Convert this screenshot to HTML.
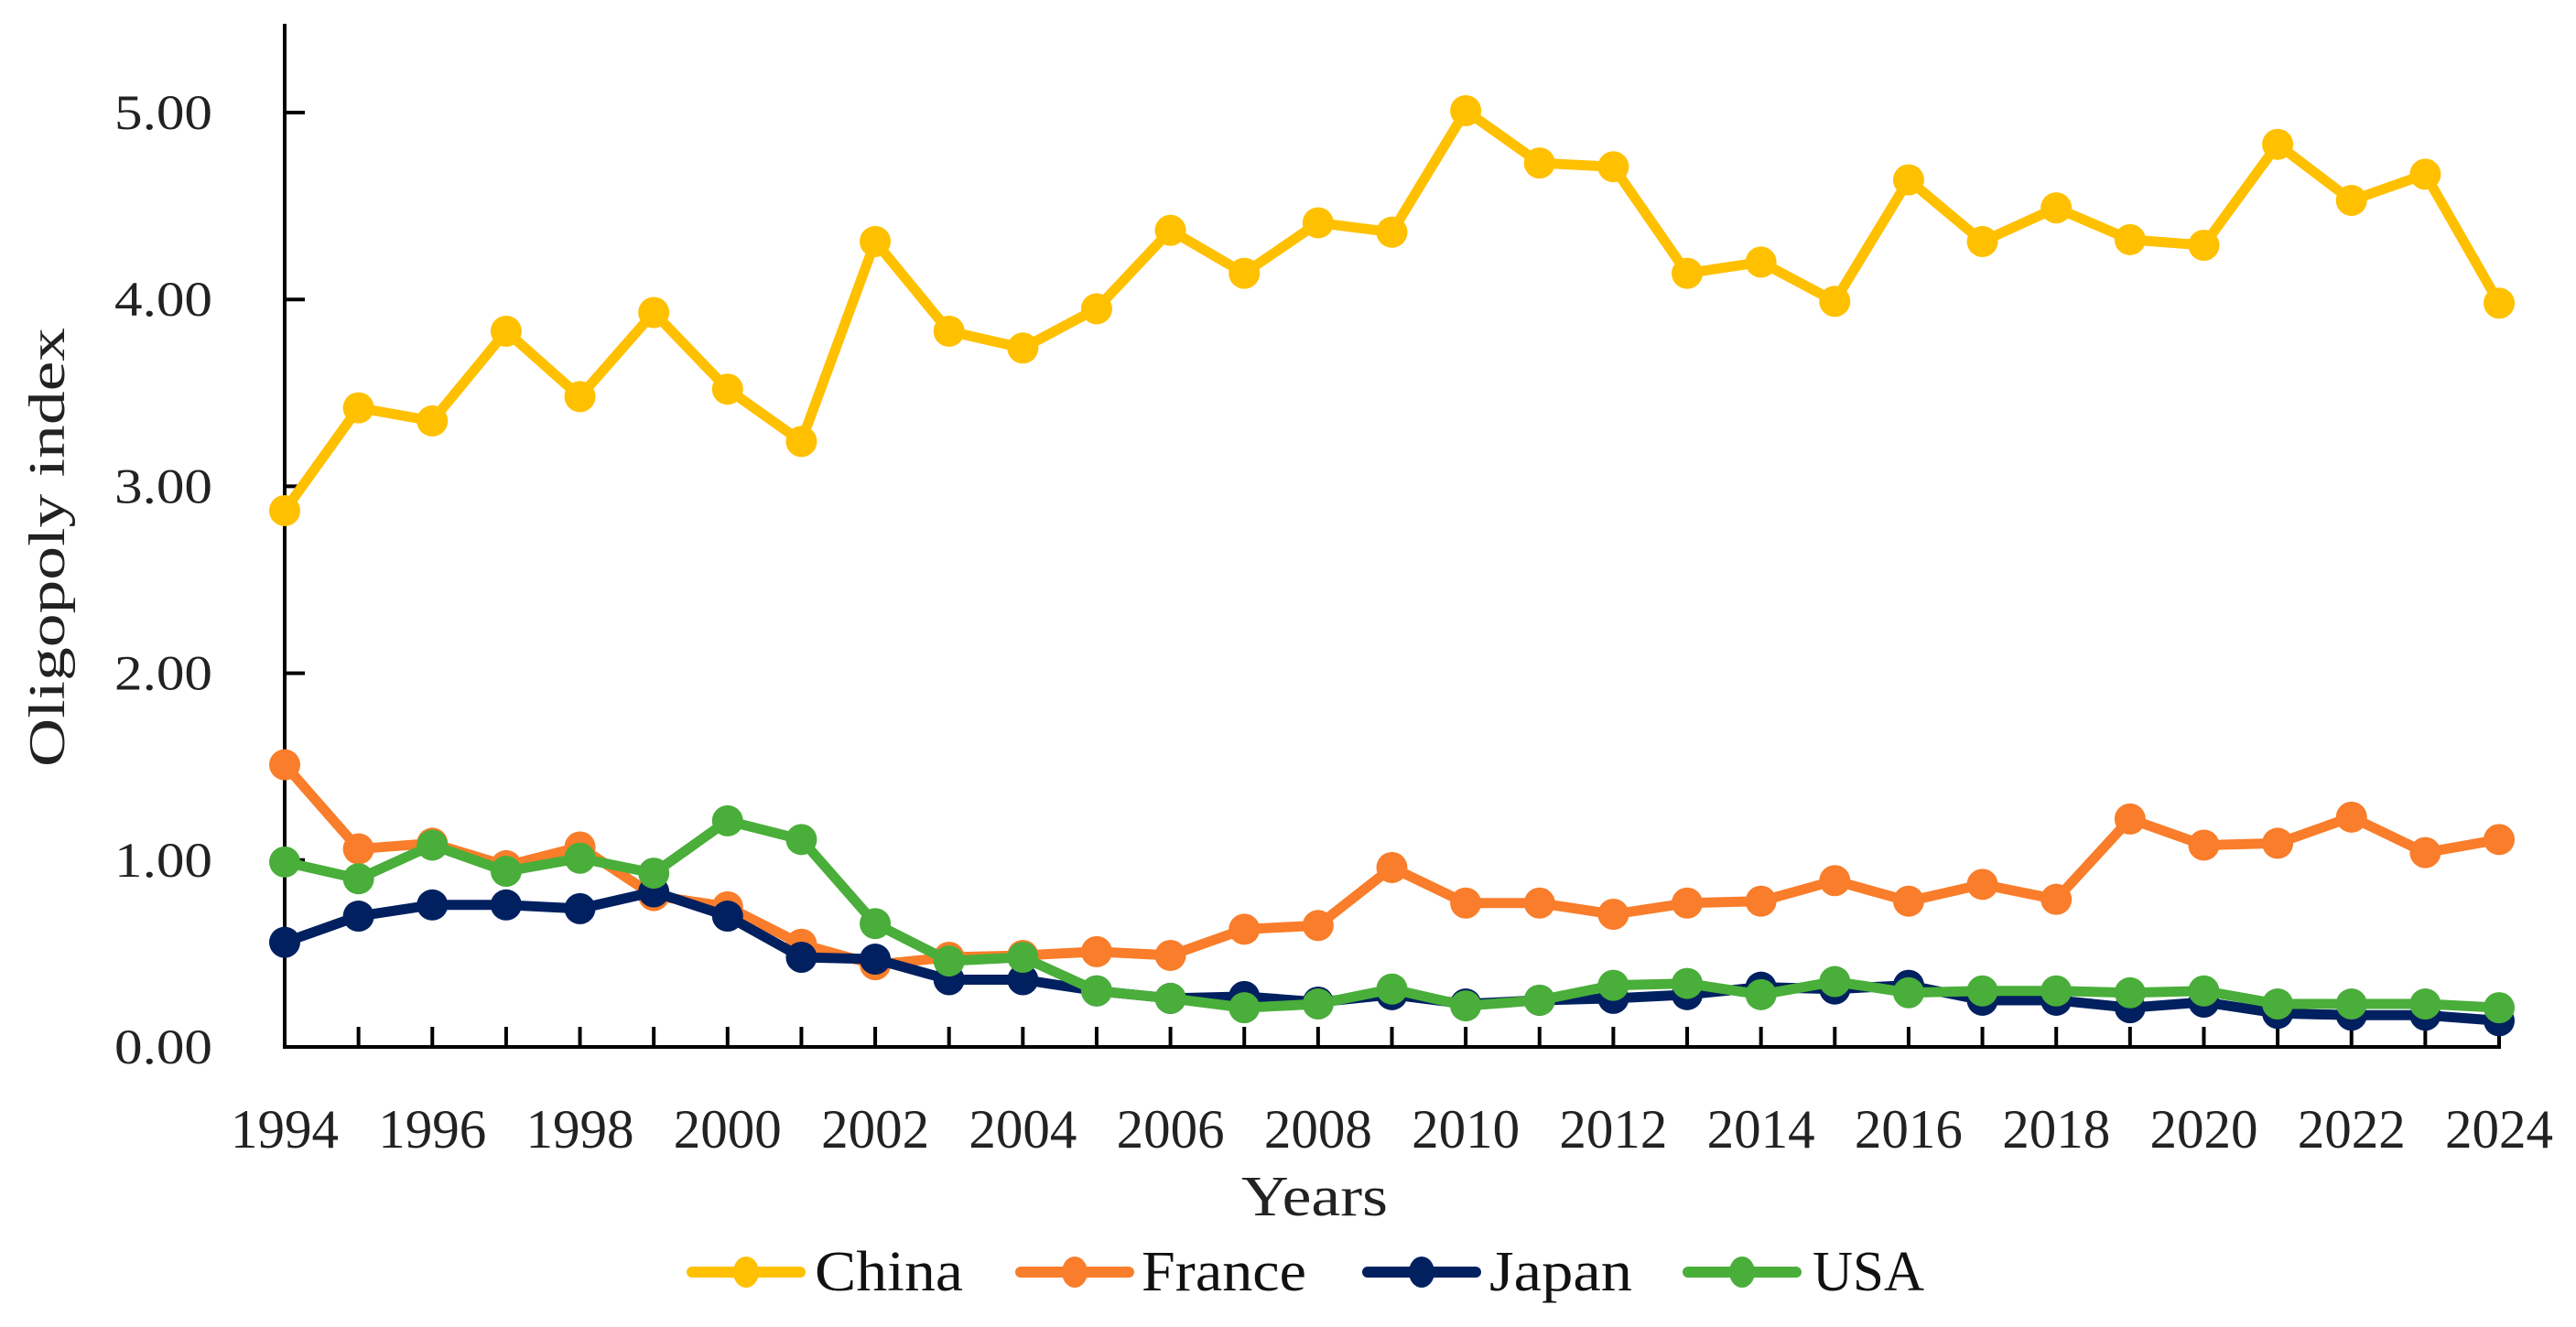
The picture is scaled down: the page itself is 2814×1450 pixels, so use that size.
<!DOCTYPE html>
<html><head><meta charset="utf-8"><style>
html,body{margin:0;padding:0;background:#fff;}
svg{display:block;font-family:"Liberation Serif",serif;}
</style></head><body>
<svg id="chart" width="2814" height="1450" viewBox="0 0 2814 1450" xmlns="http://www.w3.org/2000/svg"></svg>
<script>
const years = [1994,1995,1996,1997,1998,1999,2000,2001,2002,2003,2004,2005,2006,2007,2008,2009,2010,2011,2012,2013,2014,2015,2016,2017,2018,2019,2020,2021,2022,2023,2024];
const china = [2.87,3.42,3.35,3.83,3.48,3.93,3.52,3.24,4.31,3.83,3.74,3.95,4.37,4.14,4.41,4.36,5.01,4.73,4.71,4.14,4.20,3.99,4.64,4.31,4.49,4.32,4.29,4.83,4.53,4.67,3.98];
const france = [1.51,1.06,1.09,0.97,1.07,0.81,0.75,0.55,0.44,0.48,0.49,0.51,0.49,0.63,0.65,0.96,0.77,0.77,0.71,0.77,0.78,0.89,0.78,0.87,0.79,1.22,1.08,1.09,1.23,1.04,1.11];
const japan = [0.56,0.70,0.76,0.76,0.74,0.83,0.70,0.48,0.47,0.36,0.36,0.30,0.26,0.27,0.24,0.28,0.23,0.25,0.26,0.28,0.32,0.31,0.33,0.25,0.25,0.21,0.24,0.18,0.17,0.17,0.14];
const usa = [0.99,0.90,1.08,0.94,1.01,0.93,1.21,1.11,0.66,0.46,0.48,0.30,0.26,0.21,0.23,0.31,0.22,0.25,0.33,0.34,0.28,0.35,0.29,0.30,0.30,0.29,0.30,0.23,0.23,0.23,0.21];
const yTicks = [0,1,2,3,4,5];
const xTickLabels = [1994,1996,1998,2000,2002,2004,2006,2008,2010,2012,2014,2016,2018,2020,2022,2024];
const seriesNames = ["China","France","Japan","USA"];

const NS="http://www.w3.org/2000/svg";
const svg=document.getElementById('chart');
const X0=311,X1=2730,Y0=1144,YT=123;
const xs=y=>X0+(y-years[0])*(X1-X0)/(years[years.length-1]-years[0]);
const ys=v=>Y0-v*(Y0-YT)/5;
function mk(tag,attrs,parent){const e=document.createElementNS(NS,tag);for(const k in attrs)e.setAttribute(k,attrs[k]);(parent||svg).appendChild(e);return e;}

const ax=mk('g',{});


mk('line',{x1:X0,y1:26,x2:X0,y2:Y0+2,stroke:'#000','stroke-width':4},ax);
mk('line',{x1:X0-2,y1:Y0,x2:X1+2,y2:Y0,stroke:'#000','stroke-width':4},ax);
yTicks.forEach(v=>{
  mk('line',{x1:X0,y1:ys(v),x2:X0+22,y2:ys(v),stroke:'#000','stroke-width':4},ax);
  const t=mk('text',{x:232,y:ys(v)+18,'text-anchor':'end','font-size':54,fill:'#222',textLength:107,lengthAdjust:'spacingAndGlyphs'},ax);
  t.textContent=v.toFixed(2);
  
  
});
years.forEach(y=>{
  if(y!==years[0]) mk('line',{x1:xs(y),y1:Y0,x2:xs(y),y2:Y0-22,stroke:'#000','stroke-width':4},ax);
});
xTickLabels.forEach(y=>{
  const t=mk('text',{x:xs(y),y:1254,'text-anchor':'middle','font-size':60,fill:'#222',textLength:118,lengthAdjust:'spacingAndGlyphs'},ax);
  t.textContent=y;
  
  
});
const xt=mk('text',{x:1436,y:1328,'text-anchor':'middle','font-size':62,fill:'#222',textLength:160,lengthAdjust:'spacingAndGlyphs'});
xt.textContent='Years';


const yt=mk('text',{x:0,y:0,'text-anchor':'middle','font-size':56,fill:'#222',transform:'translate(70,598) rotate(-90)',textLength:480,lengthAdjust:'spacingAndGlyphs'});
yt.textContent='Oligopoly index';



const colors=['#FFC000','#F97D2A','#002060','#4AAE3A'];
const data=[china,france,japan,usa];
data.forEach((vals,i)=>{
  const g=mk('g',{});
  
  
  const pts=vals.map((v,j)=>xs(years[j])+','+ys(v)).join(' ');
  mk('polyline',{points:pts,fill:'none',stroke:colors[i],'stroke-width':11,'stroke-linejoin':'round'},g);
  vals.forEach((v,j)=>{
    const c=mk('circle',{cx:xs(years[j]),cy:ys(v),r:17,fill:colors[i]},g);
    
    
  });
});

const legX=[750,1109,1488,1838];
const legTX=[890,1247,1627,1980];
const legW=[162,180,156,122];
const lg=mk('g',{});


seriesNames.forEach((n,i)=>{
  const e=mk('g',{},lg);
  
  
  mk('line',{x1:legX[i]+6,y1:1390,x2:legX[i]+124,y2:1390,stroke:colors[i],'stroke-width':12,'stroke-linecap':'round'},e);
  mk('ellipse',{cx:legX[i]+65,cy:1390,rx:14,ry:17,fill:colors[i]},e);
  const t=mk('text',{x:legTX[i],y:1410,'font-size':62,fill:'#111',textLength:legW[i],lengthAdjust:'spacingAndGlyphs'},e);
  t.textContent=n;
});
</script>
</body></html>
